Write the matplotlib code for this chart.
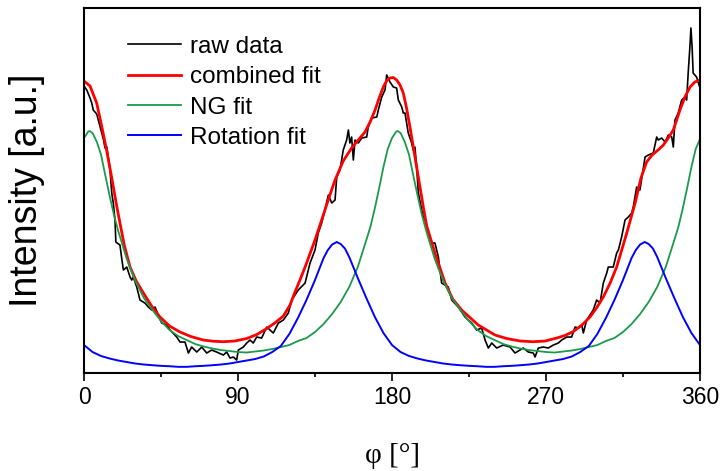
import matplotlib
matplotlib.use("Agg")
import matplotlib.pyplot as plt
from matplotlib.ticker import MultipleLocator

# --- data (phi in degrees, intensity in arbitrary units) ---
raw_phi = [0, 1.6, 3.5, 4.5, 5.4, 7.4, 9.4, 11.3, 12.3, 13.3, 15.2, 16.2, 17.1, 18.1, 18.6,
           21.0, 22.0, 23.0, 25.0, 26.9, 27.9, 28.8, 30.8, 32.7, 35.6, 37.6, 39.6, 41.5, 43.4,
           45.4, 48.3, 50.3, 54.2, 56.1, 59.0, 61.0, 62.9, 65.9, 68.8, 71.7, 74.6, 77.5, 81.4,
           83.4, 85.3, 87.3, 89.2, 90.2, 93.1, 95.1, 97.0, 98.9, 100.9, 103.8, 106.8, 108.7,
           110.6, 113.6, 116.5, 119.4, 121.4, 125.2, 129.2, 132.1, 135.0, 136.9, 138.9, 140.8,
           142.8, 144.8, 146.7, 147.7, 149.6, 151.5, 153.5, 154.5, 155.4, 156.4, 157.4, 158.4,
           160.3, 162.3, 165.2, 166.1, 168.1, 171.1, 172.0, 174.0, 175.9, 176.9, 178.8, 180.8,
           182.7, 183.7, 185.7, 186.6, 187.6, 189.5, 191.5, 192.4, 193.4, 194.4, 195.4, 197.4,
           198.3, 199.3, 201.2, 203.2, 205.1, 207.1, 209.0, 212.9, 214.9, 218.7, 222.7, 226.6,
           229.5, 232.4, 234.4, 236.3, 238.3, 241.2, 245.0, 249.0, 251.9, 254.8, 256.7, 259.7,
           262.6, 263.6, 265.5, 268.4, 271.3, 274.3, 277.2, 279.2, 282.1, 285.0, 287.0, 288.9,
           290.9, 291.8, 293.8, 295.7, 297.6, 299.6, 301.6, 303.5, 305.5, 306.4, 309.3, 311.3,
           312.3, 314.2, 316.2, 318.1, 320.1, 321.0, 322.0, 323.0, 324.9, 327.9, 329.8, 332.7,
           334.7, 335.6, 337.6, 339.6, 341.5, 343.5, 344.4, 345.4, 347.3, 349.3, 351.2, 352.2,
           353.1, 354.1, 354.7, 355.4, 356.0, 358.0, 359.5, 360]
raw_int = [287, 283, 275, 270, 263, 259, 246, 234, 225, 226, 203, 180, 170, 153, 131,
           128, 115, 103, 106, 96, 93, 96, 86, 73, 70, 66, 63, 66, 58,
           50, 48, 43, 36, 31, 31, 20, 26, 21, 26, 20, 23, 21, 18,
           21, 15, 16, 13, 23, 26, 30, 33, 30, 36, 35, 46, 43,
           40, 50, 53, 60, 73, 83, 90, 110, 123, 140, 150, 163,
           178, 170, 173, 196, 203, 223, 233, 243, 230, 236, 213, 233,
           230, 235, 236, 246, 255, 256, 263, 276, 283, 298, 291, 286,
           285, 273, 266, 260, 260, 240, 230, 223, 226, 206, 180, 163,
           156, 153, 140, 130, 130, 116, 90, 86, 73, 66, 56, 50,
           43, 45, 33, 25, 30, 25, 28, 26, 20, 23, 25, 21,
           20, 16, 25, 26, 25, 28, 30, 33, 36, 36, 46, 45,
           48, 40, 53, 58, 63, 73, 70, 90, 100, 106, 106, 120,
           123, 136, 153, 156, 160, 166, 176, 186, 183, 216, 218, 220,
           236, 233, 235, 231, 238, 236, 226, 253, 260, 273, 276, 273,
           300, 326, 345, 326, 300, 296, 288, 285]

comb_phi = [0, 3.5, 7.4, 10.3, 13.3, 16.2, 19.1, 21.0, 23.5, 26.9, 30.5, 34.7, 39.5, 44.4, 50,
            56.1, 62.5, 69.7, 75.5, 81.4, 88, 95.1, 101, 106.8, 111.5, 116.5, 120.4, 123.3,
            126.2, 129.2, 132, 135.0, 137.9, 140.8, 143.7, 146.7, 151.5, 156.4, 160.3, 164.2,
            167.2, 170.1, 172.5, 174.9, 176.8, 178.8, 180.8, 182.7, 184.7, 186.6, 188.5, 190.5,
            194.4, 198.3, 200.3, 205.1, 211.0, 215.5, 220.7, 230.4, 240.2, 247.0, 255, 262.6,
            269.5, 276.3, 281, 286.0, 291, 295.7, 299.5, 303.5, 307.5, 311.3, 317.2, 322.1,
            325.5, 328.8, 332, 335.5, 338.6, 341.5, 344.4, 348.3, 351.2, 354.2, 357, 360]
comb_int = [292, 287, 270, 247, 222, 195, 167, 150, 128, 106, 92, 80, 67, 56, 47,
            41, 36.5, 33, 31.8, 31.3, 32, 34.5, 38.5, 44.5, 50, 57, 68, 81,
            93, 106, 119, 133, 148, 163, 178, 193, 212, 225, 233, 241,
            251, 263, 275, 286, 292, 295, 295.5, 293, 288, 280, 265, 246,
            206, 166, 147, 120, 90, 74, 63, 48, 38, 34.5, 32, 31.3,
            32, 35, 37.5, 41.5, 48, 56, 65, 76, 90, 106, 140, 170,
            195, 211, 218, 223, 228, 235, 243, 263, 276, 286, 291, 293]

ng_phi = [0, 2.5, 3.3, 5, 7.5, 10, 12.5, 15, 17.5, 20, 25, 30, 35, 40, 45, 50, 55, 60, 65,
          70, 75, 80, 85, 90, 95, 100, 105, 110, 115, 120, 125, 130, 135, 140, 145, 150, 155,
          160, 165, 167.5, 170, 172.5, 175, 177.5, 180, 182.5, 183.3, 185, 187.5, 190, 192.5,
          195, 197.5, 200, 205, 210, 215, 220, 225, 230, 235, 240, 245, 250, 255, 260, 265,
          270, 275, 280, 285, 290, 295, 300, 305, 310, 315, 320, 325, 330, 335, 340, 345,
          347.5, 350, 352.5, 355, 357.5, 360]
ng_int = [235, 241.5, 242, 240, 231, 218, 197, 177, 158, 142, 114, 92, 75, 63, 52, 43, 37, 33, 29,
          26.5, 24.5, 23, 22, 21, 20.5, 21.5, 22.5, 24, 26, 28, 32, 35, 41, 49, 59, 71, 86,
          106, 133, 147, 165, 185, 206, 224, 235, 241.5, 242, 240, 231, 218, 197,
          177, 158, 142, 114, 92, 75, 63, 52, 43, 37, 33, 29,
          26.5, 24.5, 23, 22, 21, 20.5, 21.5, 22.5, 24, 26, 28, 32, 35, 41, 49, 59, 71, 86,
          106, 133, 147, 165, 185, 206, 224, 234]

rot_phi = [0, 5, 10, 15, 20, 25, 30, 35, 40, 45, 50, 55, 60, 65, 70, 75, 80, 85, 90, 95, 100,
           105, 110, 115, 120, 125, 130, 135, 140, 142.5, 145, 147.7, 150, 152.5, 155, 160, 165,
           170, 175, 180, 185, 190, 195, 200, 205, 210, 215, 220, 225, 230, 235, 240, 245, 250,
           255, 260, 265, 270, 275, 280, 285, 290, 295, 300, 305, 310, 315, 320, 322.5, 325,
           327.7, 330, 332.5, 335, 340, 345, 350, 355, 360]
rot_int = [28, 21, 17, 14.5, 12.5, 11, 9.5, 8.5, 7.8, 7.2, 6.8, 6.2, 6.2, 6.8, 7.2, 7.8, 8.5,
           9.5, 11, 12.5, 14, 16.5, 21, 27, 39, 55, 73, 93, 115, 123, 128.5, 131, 129, 124.5,
           116, 95, 75, 56, 40, 28, 21, 17, 14.5, 12.5, 11, 9.5, 8.5, 7.8, 7.2, 6.8, 6.2, 6.2,
           6.8, 7.2, 7.8, 8.5, 9.5, 11, 12.5, 14, 16.5, 21, 27, 39, 55, 73, 93, 115, 123,
           128.5, 131, 129, 124.5, 116, 95, 75, 56, 40, 28]

labels = ["raw data", "combined fit", "NG fit", "Rotation fit"]
colors = ["black", "#ff0000", "#1a9a4a", "#0000ff"]

fig = plt.figure(figsize=(7.2, 4.71), dpi=100)
ax = fig.add_axes([0.1167, 0.208, 0.8555, 0.775])

ax.plot(raw_phi, raw_int, color=colors[0], lw=1.2, label=labels[0])
ax.plot(comb_phi, comb_int, color=colors[1], lw=2.0, label=labels[1])
ax.plot(ng_phi, ng_int, color=colors[2], lw=1.3, label=labels[2])
ax.plot(rot_phi, rot_int, color=colors[3], lw=1.4, label=labels[3])

ax.set_xlim(0, 360)
ax.set_ylim(0, 365)
ax.xaxis.set_major_locator(MultipleLocator(90))
ax.xaxis.set_minor_locator(MultipleLocator(45))
ax.tick_params(axis="x", which="major", direction="out", length=6, width=1.2, pad=3)
ax.tick_params(axis="x", which="minor", direction="out", length=3, width=1.2)
ax.set_yticks([])
for lab in ax.get_xticklabels():
    lab.set_family("Liberation Sans")
    lab.set_fontsize(16.5)
for s in ax.spines.values():
    s.set_linewidth(1.5)

ax.set_xlabel("φ [°]", family="Liberation Serif", fontsize=21, labelpad=25)
ax.set_ylabel("Intensity [a.u.]", family="Liberation Sans", fontsize=27, labelpad=28)

ax.legend(loc="upper left", bbox_to_anchor=(0.055, 0.95), frameon=False,
          prop={"family": "Liberation Sans", "size": 17.5},
          handlelength=2.2, handletextpad=0.35, labelspacing=0.34, borderaxespad=0)

fig.savefig("out.png", dpi=100)
